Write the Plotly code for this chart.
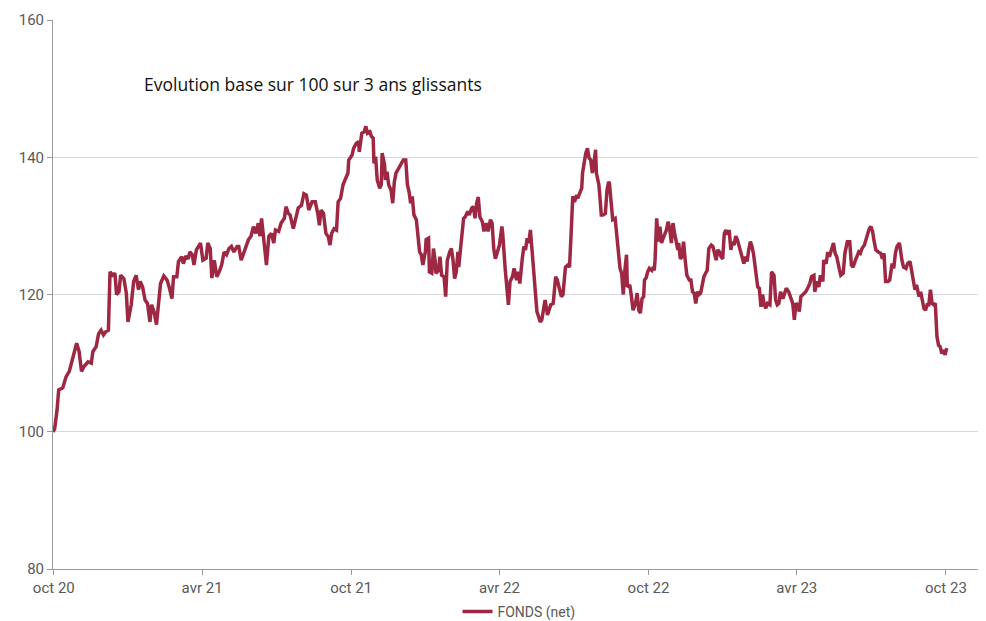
import pandas as pd
import plotly.graph_objects as go

# Elapsed days since start and fund values (base 100)
days = [0, 2, 5, 7, 12, 16, 20, 23, 27, 29, 32, 35, 38, 43, 47, 49, 53, 56, 59, 62, 65, 68, 70, 73, 76, 78, 81, 83, 87, 90,
        92, 96, 99, 102, 105, 107, 110, 113, 116, 119, 121, 124, 127, 129, 132, 136, 140, 143, 146, 148, 152, 154, 158, 160,
        163, 166, 168, 171, 173, 176, 179, 181, 184, 188, 190, 193, 195, 198, 201, 204, 207, 210, 213, 216, 219, 222, 226,
        228, 231, 234, 237, 240, 243, 246, 249, 252, 254, 256, 259, 262, 265, 268, 271, 273, 277, 280, 284, 286, 289,
        291, 295, 298, 301, 305, 308, 311, 314, 318, 322, 325, 327, 329, 332, 335, 338, 340, 342, 345, 348, 350, 353, 356,
        359, 362, 363, 367, 369, 372, 375, 376, 379, 382, 384, 386, 389, 391, 393, 394, 396, 398, 401, 403, 404, 407, 408,
        410, 412, 415, 417, 419, 421, 425, 428, 430, 433, 435, 437, 439, 441, 443, 446, 448, 450, 452, 454, 457, 458, 461,
        462, 465, 467, 469, 470, 473, 475, 477, 480, 482, 484, 487, 489, 491, 493, 495, 497, 498, 500, 504, 506, 509, 511,
        514, 516, 518, 520, 522, 524, 527, 529, 532, 534, 537, 539, 541, 543, 546, 548, 551, 552, 555, 557, 559, 561, 564,
        566, 569, 571, 573,
        576, 578, 580, 582, 584, 586, 588, 590, 592, 594, 596, 598, 600, 602, 604, 607, 609, 611, 614, 617, 619, 621, 624,
        626, 629, 632, 634, 636, 638, 640, 643, 644, 647, 649, 650, 652, 654, 656, 658, 660, 662, 664, 666, 667, 670, 671,
        673, 675, 678, 680, 682, 683, 685, 687, 690, 692, 694, 696, 698, 700, 702, 704, 705, 708, 710, 712, 715, 717, 719,
        721, 723, 725, 726, 728, 730, 732, 735, 737, 738, 739, 741, 743, 745, 747, 749, 751, 753, 755, 757, 759, 761, 763,
        765, 767, 768, 770, 772, 774, 776, 778, 781, 783, 785, 787, 789, 791, 793, 795, 797, 799, 801, 803, 805, 808, 810,
        812, 814, 816, 818, 820, 822, 824, 826, 828, 830, 832, 834, 836, 838, 840, 842, 844, 846, 848, 850, 852, 854, 856,
        858, 860,
        865, 867, 869, 871, 873, 875, 877, 880, 882, 885, 887, 889, 891, 893, 896, 898, 900, 903, 906, 908, 910, 912, 914,
        916, 918, 921, 924, 927, 929, 931, 934, 935, 938, 940, 942, 945, 946, 949, 951, 953, 955, 958, 960, 962, 965, 967,
        970, 972, 975, 978, 980, 982, 985, 987, 989, 991, 993, 996, 998, 1000, 1002, 1004, 1006, 1008, 1010, 1013, 1016,
        1018, 1020, 1022, 1025, 1027, 1030, 1032, 1034, 1036, 1039, 1042, 1044, 1047, 1049, 1052, 1054, 1056, 1058, 1060,
        1063, 1065, 1067, 1069, 1071, 1073, 1075, 1077, 1079, 1081, 1083, 1085, 1087, 1089, 1091, 1093, 1095, 1097]

fonds = [100.0, 100.4, 103.2, 106.1, 106.4, 108.0, 108.8, 110.2, 111.9, 112.9, 111.7, 108.8, 109.5, 110.2, 110.0, 111.7,
         112.4, 114.3, 114.8, 114.1, 114.6, 114.8, 123.3, 122.8, 123.1, 120.0, 120.4, 122.8, 122.3, 120.2,
         116.0, 118.5, 121.9, 122.8, 120.7, 121.9, 121.1, 119.2, 118.7, 116.0, 118.5, 117.5, 115.6, 118.2, 121.6, 122.7,
         122.1, 120.9, 119.4, 122.6, 122.6, 124.8, 125.5, 124.5,
         125.6, 125.2, 126.2, 125.8, 124.3, 126.5, 127.0, 127.5, 125.0, 125.3, 127.5, 126.7, 122.4, 125.0, 122.6, 123.3,
         124.3, 126.2, 125.8, 126.7, 127.0, 126.2, 127.0,
         127.0, 125.0, 126.2, 127.0, 128.0, 128.5, 129.9, 128.9, 130.4, 128.5, 131.1, 127.0, 124.3, 128.5, 128.9, 127.5,
         129.4, 129.2, 130.4, 131.1, 132.8, 131.8,
         131.6, 129.6, 131.3, 132.6, 133.0, 134.7, 134.5, 132.3, 133.5, 133.5, 131.8, 130.1, 132.3, 131.8, 128.9, 128.4,
         127.2, 128.9, 129.6, 129.4, 133.5, 134.0, 136.0,
         136.9, 137.7, 139.6, 140.3, 141.3, 142.0, 142.3, 140.8, 143.5, 143.7, 144.5, 143.5, 143.7, 143.0, 142.8, 139.1,
         140.1, 136.7, 135.5, 136.0, 140.6, 138.9, 136.7,
         137.9, 136.0, 135.2, 133.3, 136.4, 137.7, 138.6, 139.4, 139.6, 139.6, 136.0, 135.0, 133.3, 134.3, 131.6, 130.9,
         128.9, 126.2, 125.8, 124.3, 126.2, 128.0, 128.2,
         123.3, 123.1, 126.7, 125.0, 123.1, 123.5, 125.5, 122.8, 122.6, 119.7, 125.0, 126.2, 126.7, 125.0, 122.3, 123.3,
         126.2, 124.0, 126.7, 131.1, 131.3, 132.1, 131.6,
         132.6, 132.8, 131.1, 133.3, 134.2, 131.3, 130.6, 129.2, 130.4, 129.2, 130.9, 130.4, 126.7, 125.2, 126.7, 127.2,
         129.9, 128.9, 123.8, 120.2, 118.5, 121.9, 122.6,
         123.8, 122.1, 123.3, 121.6,
         125.2, 127.0, 126.5, 128.2, 127.5, 129.4, 126.5, 123.1, 119.7, 117.5, 116.8, 116.0, 116.3, 118.2, 119.2, 117.0,
         117.7, 118.5, 118.7, 122.6, 122.1, 121.1, 119.7,
         120.0, 124.0, 124.3, 124.0, 128.9, 134.3, 133.5, 134.5, 134.0, 135.0, 135.5, 137.7, 139.6, 140.6, 141.3, 139.9,
         139.6, 137.7, 139.1, 141.1, 137.7, 136.0, 134.7,
         131.6, 131.6, 131.8, 135.2, 136.4, 136.2, 133.3, 130.9, 131.1, 128.5, 126.0, 123.8, 123.1, 120.0, 123.6, 125.8,
         121.1, 121.4, 119.7, 117.7, 118.7, 120.2, 117.7,
         117.3, 119.4, 119.7, 122.1, 122.4, 123.3, 123.8, 123.5, 124.0, 123.5, 125.0, 131.1, 127.7, 129.9, 127.5, 128.2,
         128.7, 129.4, 130.6, 129.6, 127.5, 130.4, 128.9,
         127.5, 126.5, 127.5, 125.2, 125.5, 127.7, 125.0, 122.8, 122.1, 122.1, 120.4, 120.2, 118.7, 120.4, 120.0, 120.2,
         121.4, 122.6, 123.1, 123.5, 126.7, 127.2, 127.0,
         126.0, 125.0, 126.5, 126.2, 125.5, 125.2, 128.9, 129.4, 128.7, 129.4, 126.5, 127.7, 127.2, 128.5, 128.0, 127.0,
         126.5, 125.0, 124.5, 125.5, 124.8, 126.5, 127.7,
         127.0, 125.8,
         121.1, 120.9, 118.2, 120.0, 118.5, 118.0, 118.7, 118.5, 123.3, 122.8, 119.2, 118.5, 118.7, 120.4, 119.4, 120.0,
         120.9, 120.4, 119.4, 118.7, 116.3, 118.7, 118.5,
         117.5, 119.7, 120.0, 120.4, 121.1, 121.6, 122.6, 122.8, 120.4, 121.9, 121.1, 122.8, 121.9, 125.0, 124.5, 126.2,
         125.5, 126.5, 127.5, 126.0, 125.5, 123.8, 122.8,
         123.1, 126.0, 127.7, 127.7, 124.3, 124.0, 125.0, 125.8, 126.2, 126.0, 126.7, 127.2, 128.0, 128.5, 129.6, 129.9,
         129.2, 127.7, 126.5, 126.2, 126.0,
         125.2, 126.0, 121.9, 121.9, 122.1, 124.5, 123.8, 126.0, 127.0, 127.5, 125.0, 124.0, 123.8, 124.5, 124.8, 123.3,
         121.9, 120.7, 121.4,
         119.7, 120.4, 119.2, 118.0, 117.7, 118.5, 118.5, 120.7, 118.7, 118.5, 118.7, 113.9, 112.6, 112.4, 111.4, 111.9,
         111.2, 112.2]

tick_dates = ["2020-10-01", "2021-04-01", "2021-10-01", "2022-04-01", "2022-10-01", "2023-04-01", "2023-10-01"]
tick_labels = ["oct 20", "avr 21", "oct 21", "avr 22", "oct 22", "avr 23", "oct 23"]
y_ticks = [80, 100, 120, 140, 160]

start = pd.Timestamp("2020-09-30")
dates = [start + pd.Timedelta(days=d) for d in days]

fig = go.Figure()
fig.add_trace(go.Scatter(
    x=dates, y=fonds, mode="lines", name="FONDS (net)",
    line=dict(color="#9e2844", width=3.5),
))

# the page body adds an 8px offset, so the figure is sized/margined to compensate
fig.update_layout(
    width=978, height=613,
    margin=dict(l=45, r=1, t=12, b=52, autoexpand=False),
    paper_bgcolor="white", plot_bgcolor="white",
    font=dict(family="Roboto, sans-serif", size=15, color="#595959"),
    showlegend=True,
    legend=dict(orientation="h", x=0.5, xanchor="center", y=-0.078, yanchor="middle",
                font=dict(size=14, color="#595959"), itemwidth=30,
                bgcolor="rgba(0,0,0,0)"),
    annotations=[dict(
        text="Evolution base sur 100 sur 3 ans glissants",
        xref="paper", yref="paper", x=0.0955, y=0.883, xanchor="left", yanchor="middle",
        showarrow=False, font=dict(size=17.5, color="#111111", family="Open Sans, sans-serif"),
    )],
)

fig.update_xaxes(
    range=["2020-09-30", "2023-11-18"],
    tickvals=tick_dates, ticktext=tick_labels,
    showgrid=False, zeroline=False, automargin=False,
    showline=True, linecolor="#9a9a9a", linewidth=1,
    ticks="outside", ticklen=5, tickcolor="#9a9a9a",
)
fig.update_yaxes(
    range=[80, 160], tickvals=y_ticks,
    showgrid=True, gridcolor="#d9d9d9", gridwidth=1, zeroline=False, automargin=False,
    showline=True, linecolor="#9a9a9a", linewidth=1,
    ticks="outside", ticklen=5, tickcolor="#9a9a9a",
)

fig.write_html("out.html")
